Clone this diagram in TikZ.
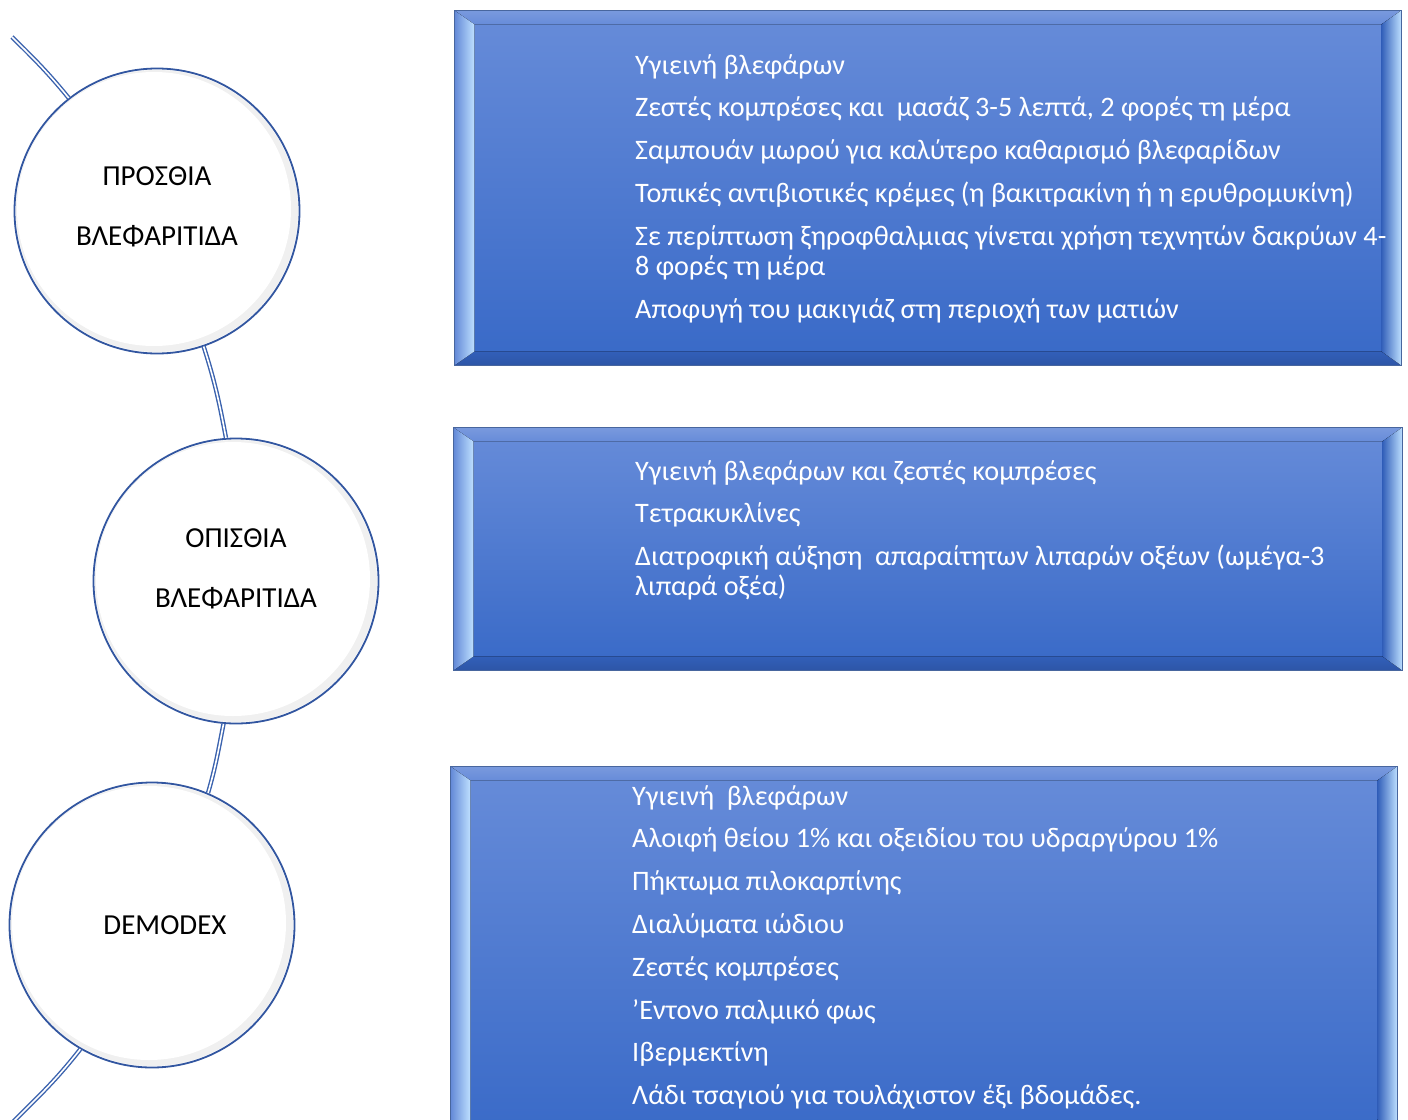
\documentclass[tikz,border=0pt]{standalone}
\usepackage{fontspec}
\setmainfont{Carlito}
\usetikzlibrary{calc}
\definecolor{ringblue}{RGB}{50,86,160}
\definecolor{linkblue}{RGB}{58,98,174}
\definecolor{boxtop}{RGB}{103,140,217}
\definecolor{boxbot}{RGB}{56,105,199}
\definecolor{bevlight}{RGB}{190,224,255}
\definecolor{bevdark}{RGB}{50,95,185}
\definecolor{boxedge}{RGB}{72,102,158}
\tikzset{
  x=1pt, y=1pt,
  stage/.style={circle, draw=ringblue, line width=1.8pt, fill=white,
    minimum size=285pt, inner sep=0pt,
    path picture={
      \fill[black!6] (path picture bounding box.center) circle (141pt);
      \fill[white] ($(path picture bounding box.center)+(-3pt,2pt)$) circle (137pt);
    }},
  stagetext/.style={font=\fontsize{29}{30}\selectfont, align=center, text=black, inner sep=0pt},
  link/.style={draw=linkblue, line width=1.4pt, double=white, double distance=1.6pt},
  panel/.style={rectangle, anchor=north west, inner sep=0pt, draw=boxedge, line width=0.8pt,
    top color=boxtop, bottom color=boxbot,
    path picture={
      \coordinate (pnw) at (path picture bounding box.north west);
      \coordinate (pne) at (path picture bounding box.north east);
      \coordinate (psw) at (path picture bounding box.south west);
      \coordinate (pse) at (path picture bounding box.south east);
      \fill[top color=boxtop!88!white, bottom color=boxtop] (pnw) -- (pne) -- ($(pne)+(-20,-14)$) -- ($(pnw)+(20,-14)$) -- cycle;
      \fill[top color=bevdark, bottom color=bevdark!90!black] (psw) -- (pse) -- ($(pse)+(-20,14)$) -- ($(psw)+(20,14)$) -- cycle;
      \fill[left color=boxtop!90!boxbot, right color=bevlight] (pnw) -- ($(pnw)+(20,-14)$) -- ($(psw)+(20,14)$) -- (psw) -- cycle;
      \fill[left color=bevdark, right color=bevlight] (pne) -- ($(pne)+(-20,-14)$) -- ($(pse)+(-20,14)$) -- (pse) -- cycle;
    }},
  paneltext/.style={anchor=north west, inner sep=0pt, align=left, text=white,
    font=\fontsize{28.2}{30}\selectfont}
}
\begin{document}
\begin{tikzpicture}
\clip (0,0) rectangle (1408,-1119);
\fill[white] (0,0) rectangle (1408,-1119);

% panels
\node[panel, minimum width=947pt, minimum height=355pt] (p1) at (454,-10) {};
\node[panel, minimum width=949pt, minimum height=243pt] (p2) at (453,-427) {};
\node[panel, minimum width=947pt, minimum height=380pt] (p3) at (450,-766) {};

\node[paneltext] (t1) at (635,-54) {Υγιεινή βλεφάρων\\[12.8pt]
Ζεστές κομπρέσες και~ μασάζ 3-5 λεπτά, 2 φορές τη μέρα\\[12.8pt]
Σαμπουάν μωρού για καλύτερο καθαρισμό βλεφαρίδων\\[12.8pt]
Τοπικές αντιβιοτικές κρέμες (η βακιτρακίνη ή η ερυθρομυκίνη)\\[12.8pt]
Σε περίπτωση ξηροφθαλμιας γίνεται χρήση τεχνητών δακρύων 4-\\
8 φορές τη μέρα\\[12.8pt]
Αποφυγή του μακιγιάζ στη περιοχή των ματιών};

\node[paneltext] (t2) at (635,-460) {Υγιεινή βλεφάρων και ζεστές κομπρέσες\\[12.8pt]
Τετρακυκλίνες\\[12.8pt]
Διατροφική αύξηση~ απαραίτητων λιπαρών οξέων (ωμέγα-3\\
λιπαρά οξέα)};

\node[paneltext] (t3) at (632,-785) {Υγιεινή~ βλεφάρων\\[12.8pt]
Αλοιφή θείου 1\% και οξειδίου του υδραργύρου 1\%\\[12.8pt]
Πήκτωμα πιλοκαρπίνης\\[12.8pt]
Διαλύματα ιώδιου\\[12.8pt]
Ζεστές κομπρέσες\\[12.8pt]
'Εντονο παλμικό φως\\[12.8pt]
Ιβερμεκτίνη\\[12.8pt]
Λάδι τσαγιού για τουλάχιστον έξι βδομάδες.};

% circles
\node[stage] (c1) at (157,-211) {};
\node[stage] (c2) at (236,-581) {};
\node[stage] (c3) at (152,-925) {};
\node[stagetext] (c1t) at (157,-207) {ΠΡΟΣΘΙΑ\\[30pt]ΒΛΕΦΑΡΙΤΙΔΑ};
\node[stagetext] (c2t) at (236,-569) {ΟΠΙΣΘΙΑ\\[30pt]ΒΛΕΦΑΡΙΤΙΔΑ};
\node[stagetext] (c3t) at (165,-925) {DEMODEX};

% connectors
\coordinate (topend) at (12,-37);
\coordinate (botend) at (12,-1123);
\draw[link] (topend) to[out=-44.6, in=129.2] (c1.128.5);
\draw[link] (c1.-71.8) to[out=-72.3, in=100.7] (c2.94);
\draw[link] (c2.-95) to[out=-101, in=73.9] (c3.67);
\draw[link] (c3.-120.6) to[out=-128.1, in=45] (botend);
\end{tikzpicture}
\end{document}
